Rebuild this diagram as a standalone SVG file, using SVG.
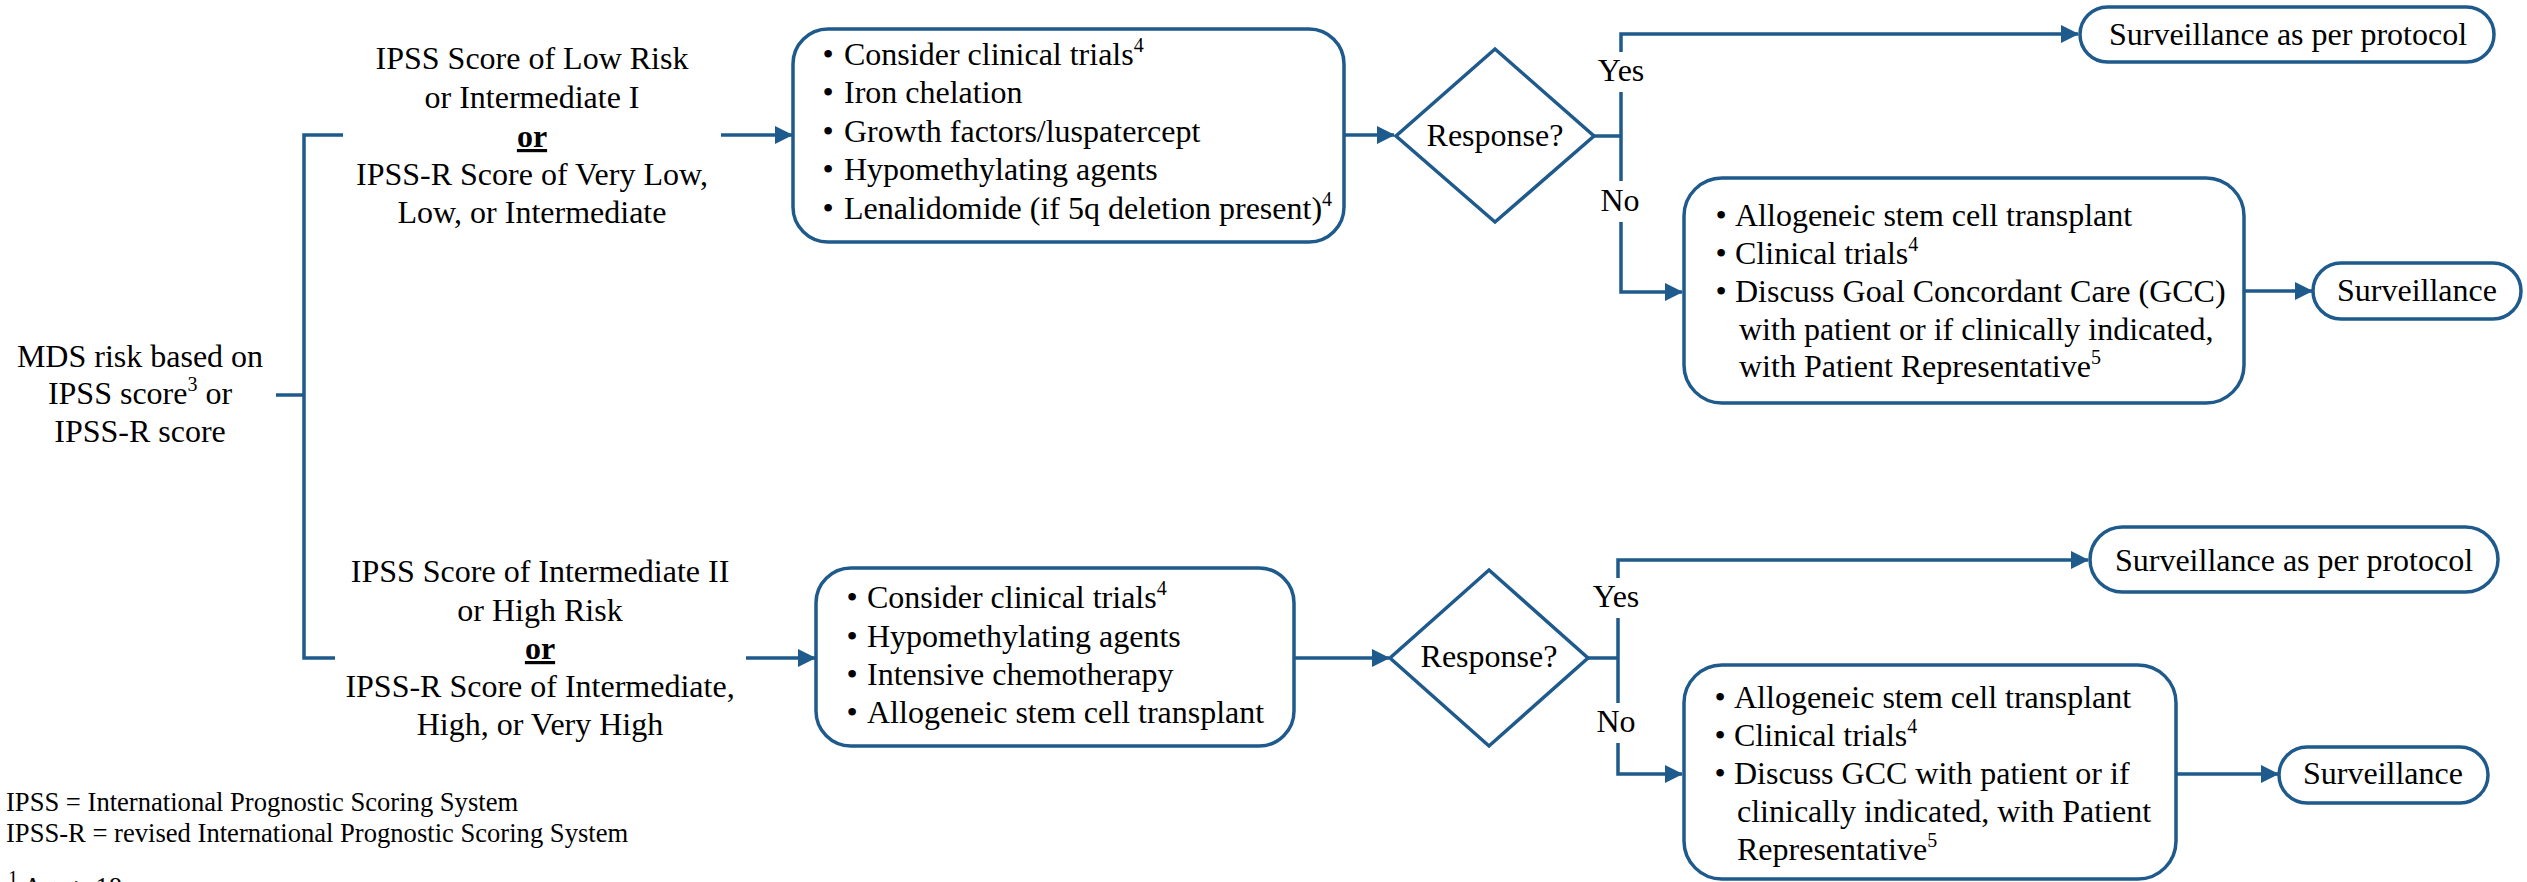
<svg xmlns="http://www.w3.org/2000/svg" width="2527" height="882" viewBox="0 0 2527 882">
<style>
.t{font-family:"Liberation Serif","Times New Roman",serif;font-size:32px;fill:#000}
.c{text-anchor:middle}
.sup{font-size:20px}
.f{font-size:26.6px}
.ln{fill:none;stroke:#1F5A8C;stroke-width:3.5}
.box{fill:#fff;stroke:#1F5A8C;stroke-width:3.5}
</style>
<defs>
<marker id="ah" markerUnits="userSpaceOnUse" markerWidth="18" markerHeight="20" refX="17" refY="10" orient="auto">
<path d="M0,1 L18,10 L0,19 Z" fill="#1F5A8C"/>
</marker>
</defs>
<rect width="2527" height="882" fill="#fff"/>

<g id="connectors">
<path class="ln" d="M276,395 H304"/>
<path class="ln" d="M343,135 H304 V658 H335"/>
<path class="ln" d="M721,135 H792" marker-end="url(#ah)"/>
<path class="ln" d="M1344,135 H1394" marker-end="url(#ah)"/>
<path class="ln" d="M1594,136 H1621"/>
<path class="ln" d="M1621,52 V34 H2078" marker-end="url(#ah)"/>
<path class="ln" d="M1621,92 V181"/>
<path class="ln" d="M1621,222 V292 H1682" marker-end="url(#ah)"/>
<path class="ln" d="M2244,291 H2312" marker-end="url(#ah)"/>
<path class="ln" d="M746,658 H815" marker-end="url(#ah)"/>
<path class="ln" d="M1294,658 H1389" marker-end="url(#ah)"/>
<path class="ln" d="M1588,658 H1618"/>
<path class="ln" d="M1618,578 V560 H2088" marker-end="url(#ah)"/>
<path class="ln" d="M1618,618 V703"/>
<path class="ln" d="M1618,743 V774 H1682" marker-end="url(#ah)"/>
<path class="ln" d="M2176,774 H2278" marker-end="url(#ah)"/>
</g>

<g id="mds">
<text class="t c" x="140" y="367">MDS risk based on</text>
<text class="t c" x="140" y="404">IPSS score<tspan class="sup" dy="-13">3</tspan><tspan dy="13"> or</tspan></text>
<text class="t c" x="140" y="442">IPSS-R score</text>
</g>

<g id="low-risk">
<text class="t c" x="532" y="69">IPSS Score of Low Risk</text>
<text class="t c" x="532" y="108">or Intermediate I</text>
<text class="t c" x="532" y="147" font-weight="bold" text-decoration="underline">or</text>
<text class="t c" x="532" y="185">IPSS-R Score of Very Low,</text>
<text class="t c" x="532" y="223">Low, or Intermediate</text>
</g>

<g id="high-risk">
<text class="t c" x="540" y="582">IPSS Score of Intermediate II</text>
<text class="t c" x="540" y="621">or High Risk</text>
<text class="t c" x="540" y="659" font-weight="bold" text-decoration="underline">or</text>
<text class="t c" x="540" y="697">IPSS-R Score of Intermediate,</text>
<text class="t c" x="540" y="735">High, or Very High</text>
</g>

<g id="treat-low">
<rect class="box" x="793" y="29" width="551" height="213" rx="35"/>
<text class="t c"><tspan x="828" y="65">•</tspan><tspan x="828" y="103">•</tspan><tspan x="828" y="142">•</tspan><tspan x="828" y="180">•</tspan><tspan x="828" y="219">•</tspan></text>
<text class="t"><tspan x="844" y="65">Consider clinical trials</tspan><tspan class="sup" dy="-13">4</tspan><tspan x="844" y="103">Iron chelation</tspan><tspan x="844" y="142">Growth factors/luspatercept</tspan><tspan x="844" y="180">Hypomethylating agents</tspan><tspan x="844" y="219">Lenalidomide (if 5q deletion present)</tspan><tspan class="sup" dy="-13">4</tspan></text>
</g>

<g id="response-low">
<polygon class="box" points="1495,49 1594,136 1495,222 1396,136"/>
<text class="t c" x="1495" y="146">Response?</text>
<text class="t c" x="1621" y="81">Yes</text>
<text class="t c" x="1620" y="211">No</text>
</g>

<g id="surv-protocol-low">
<rect class="box" x="2080" y="7" width="414" height="55" rx="27.5"/>
<text class="t c" x="2288" y="45">Surveillance as per protocol</text>
</g>

<g id="nonresp-low">
<rect class="box" x="1684" y="178" width="560" height="225" rx="38"/>
<text class="t c"><tspan x="1721" y="226">•</tspan><tspan x="1721" y="264">•</tspan><tspan x="1721" y="302">•</tspan></text>
<text class="t"><tspan x="1735" y="226">Allogeneic stem cell transplant</tspan><tspan x="1735" y="264">Clinical trials</tspan><tspan class="sup" dy="-13">4</tspan><tspan x="1735" y="302">Discuss Goal Concordant Care (GCC)</tspan><tspan x="1739" y="340">with patient or if clinically indicated,</tspan><tspan x="1739" y="377">with Patient Representative</tspan><tspan class="sup" dy="-13">5</tspan></text>
</g>

<g id="surv-low">
<rect class="box" x="2313" y="263" width="208" height="56" rx="28"/>
<text class="t c" x="2417" y="301">Surveillance</text>
</g>

<g id="treat-high">
<rect class="box" x="816" y="568" width="478" height="178" rx="35"/>
<text class="t c"><tspan x="852" y="608">•</tspan><tspan x="852" y="647">•</tspan><tspan x="852" y="685">•</tspan><tspan x="852" y="723">•</tspan></text>
<text class="t"><tspan x="867" y="608">Consider clinical trials</tspan><tspan class="sup" dy="-13">4</tspan><tspan x="867" y="647">Hypomethylating agents</tspan><tspan x="867" y="685">Intensive chemotherapy</tspan><tspan x="867" y="723">Allogeneic stem cell transplant</tspan></text>
</g>

<g id="response-high">
<polygon class="box" points="1489,570 1588,658 1489,746 1390,658"/>
<text class="t c" x="1489" y="667">Response?</text>
<text class="t c" x="1616" y="607">Yes</text>
<text class="t c" x="1616" y="732">No</text>
</g>

<g id="surv-protocol-high">
<rect class="box" x="2090" y="527" width="408" height="65" rx="32.5"/>
<text class="t c" x="2294" y="571">Surveillance as per protocol</text>
</g>

<g id="nonresp-high">
<rect class="box" x="1684" y="665" width="492" height="214" rx="38"/>
<text class="t c"><tspan x="1720" y="708">•</tspan><tspan x="1720" y="746">•</tspan><tspan x="1720" y="784">•</tspan></text>
<text class="t"><tspan x="1734" y="708">Allogeneic stem cell transplant</tspan><tspan x="1734" y="746">Clinical trials</tspan><tspan class="sup" dy="-13">4</tspan><tspan x="1734" y="784">Discuss GCC with patient or if</tspan><tspan x="1737" y="822">clinically indicated, with Patient</tspan><tspan x="1737" y="860">Representative</tspan><tspan class="sup" dy="-13">5</tspan></text>
</g>

<g id="surv-high">
<rect class="box" x="2279" y="747" width="209" height="56" rx="28"/>
<text class="t c" x="2383" y="784">Surveillance</text>
</g>

<g id="footer">
<text class="t f" x="6" y="811">IPSS = International Prognostic Scoring System</text>
<text class="t f" x="6" y="842">IPSS-R = revised International Prognostic Scoring System</text>
<text class="t f" x="8" y="896"><tspan class="sup" dy="-11">1</tspan><tspan dy="11"> Age ≥ 18</tspan></text>
</g>
</svg>
